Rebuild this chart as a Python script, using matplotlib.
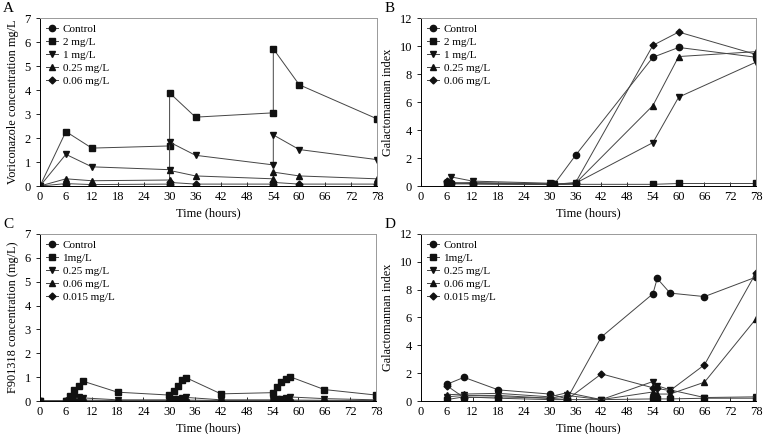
import matplotlib.pyplot as plt

plt.rcParams['font.family'] = ['Liberation Serif', 'DejaVu Serif']

# A: voriconazole concentration
a_t = [0, 6, 12, 30, 30, 36, 54, 54, 60, 78]
a_control = [0, 0, 0, 0, 0, 0, 0, 0, 0, 0]
a_2 = [0, 2.27, 1.58, 1.67, 3.88, 2.87, 3.05, 5.72, 4.22, 2.8]
a_1 = [0, 1.32, 0.8, 0.68, 1.83, 1.28, 0.88, 2.13, 1.52, 1.1]
a_025 = [0, 0.3, 0.22, 0.25, 0.65, 0.42, 0.3, 0.58, 0.42, 0.3]
a_006 = [0, 0.1, 0.06, 0.08, 0.15, 0.08, 0.08, 0.15, 0.08, 0.08]

# B: galactomannan index (voriconazole)
b_t = [6, 7, 12, 30, 31, 36, 54, 60, 78]
b_control = [0.3, 0.25, 0.15, 0.12, 0.12, 2.2, 9.2, 9.9, 9.2]
b_2 = [0.2, 0.15, 0.15, 0.1, 0.1, 0.12, 0.12, 0.18, 0.18]
b_1 = [0.2, 0.65, 0.35, 0.2, 0.15, 0.2, 3.1, 6.35, 8.85]
b_025 = [0.2, 0.2, 0.25, 0.15, 0.12, 0.2, 5.75, 9.25, 9.6]
b_006 = [0.35, 0.2, 0.2, 0.15, 0.12, 0.25, 10.05, 11.0, 9.4]

# C: F901318 concentration
c_t = [0, 6, 7, 8, 9, 10, 18, 30, 31, 32, 33, 34, 42, 54, 55, 56, 57, 58, 66, 78]
c_control = [0] * 20
c_1 = [0, 0, 0.2, 0.48, 0.62, 0.83, 0.37, 0.25, 0.42, 0.65, 0.88, 0.97, 0.3,
       0.35, 0.6, 0.8, 0.93, 1.02, 0.48, 0.25]
c_025 = [0, 0, 0.15, 0.15, 0.15, 0.13, 0.05, 0.05, 0.08, 0.1, 0.13, 0.15, 0.05,
         0.05, 0.08, 0.1, 0.13, 0.17, 0.1, 0.05]
c_006 = [0, 0, 0.04, 0.04, 0.04, 0.04, 0.02, 0.02, 0.03, 0.03, 0.04, 0.04, 0.02,
         0.02, 0.03, 0.03, 0.04, 0.04, 0.03, 0.02]
c_0015 = [0, 0, 0.01, 0.01, 0.01, 0.01, 0.0, 0.0, 0.01, 0.01, 0.01, 0.01, 0.0,
          0.0, 0.01, 0.01, 0.01, 0.01, 0.01, 0.0]

# D: galactomannan index (F901318)
d_t = [6, 10, 18, 30, 34, 42, 54, 55, 58, 66, 78]
d_control = [1.2, 1.7, 0.8, 0.5, 0.15, 4.6, 7.7, 8.8, 7.75, 7.5, 8.9]
d_1 = [0.1, 0.3, 0.2, 0.1, 0.1, 0.1, 0.15, 0.15, 0.15, 0.2, 0.2]
d_025 = [0.3, 0.4, 0.4, 0.2, 0.4, 0.1, 1.4, 1.1, 0.8, 0.25, 0.3]
d_006 = [0.45, 0.5, 0.55, 0.3, 0.6, 0.1, 0.65, 0.5, 0.5, 1.35, 5.9]
d_0015 = [1.1, 0.25, 0.3, 0.2, 0.1, 1.95, 0.95, 0.9, 0.75, 2.6, 9.2]

markers = ['o', 's', 'v', '^', 'D']
sizes = [4.5, 4.5, 4.5, 4.5, 3.5]

panels = [
    ('A', [0.0524, 0.5714, 0.4417, 0.387], a_t,
     [a_control, a_2, a_1, a_025, a_006],
     ['Control', '2 mg/L', '1 mg/L', '0.25 mg/L', '0.06 mg/L'],
     'Voriconazole concentration mg/L', 7, 1),
    ('B', [0.5518, 0.5714, 0.439, 0.387], b_t,
     [b_control, b_2, b_1, b_025, b_006],
     ['Control', '2 mg/L', '1 mg/L', '0.25 mg/L', '0.06 mg/L'],
     'Galactomannan index', 12, 2),
    ('C', [0.0524, 0.076, 0.4404, 0.385], c_t,
     [c_control, c_1, c_025, c_006, c_0015],
     ['Control', '1mg/L', '0.25 mg/L', '0.06 mg/L', '0.015 mg/L'],
     'F901318 concentration (mg/L)', 7, 1),
    ('D', [0.5518, 0.076, 0.439, 0.385], d_t,
     [d_control, d_1, d_025, d_006, d_0015],
     ['Control', '1mg/L', '0.25 mg/L', '0.06 mg/L', '0.015 mg/L'],
     'Galactomannan index', 12, 2),
]

fig = plt.figure(figsize=(7.63, 4.34), dpi=100)

for letter, rect, t, series, labels, ylabel, ymax, ystep in panels:
    ax = fig.add_axes(rect)
    for i, (y, lab) in enumerate(zip(series, labels)):
        ax.plot(t, y, color='#444444', lw=0.7, marker=markers[i],
                ms=sizes[i], mfc='#111111', mec='#111111', label=lab)
    ax.set_xlim(0, 78)
    ax.set_ylim(0, ymax)
    ax.set_xticks(range(0, 79, 6))
    ax.set_yticks(range(0, ymax + 1, ystep))
    ax.tick_params(labelsize=9, length=3, width=0.6)
    ax.tick_params(axis='x', direction='in')
    for side in ['top', 'right']:
        ax.spines[side].set_color('#999999')
    for sp in ax.spines.values():
        sp.set_linewidth(0.7)
    ax.set_xlabel('Time (hours)', fontsize=9, labelpad=3)
    ax.set_ylabel(ylabel, fontsize=8.8)
    ax.legend(loc='upper left', frameon=False, fontsize=8, handlelength=1.1,
              handletextpad=0.4, labelspacing=0.3, borderaxespad=0.15)
    ax.text(-0.11, 1.035, letter, transform=ax.transAxes, fontsize=11)

fig.savefig('out.png', dpi=100)
